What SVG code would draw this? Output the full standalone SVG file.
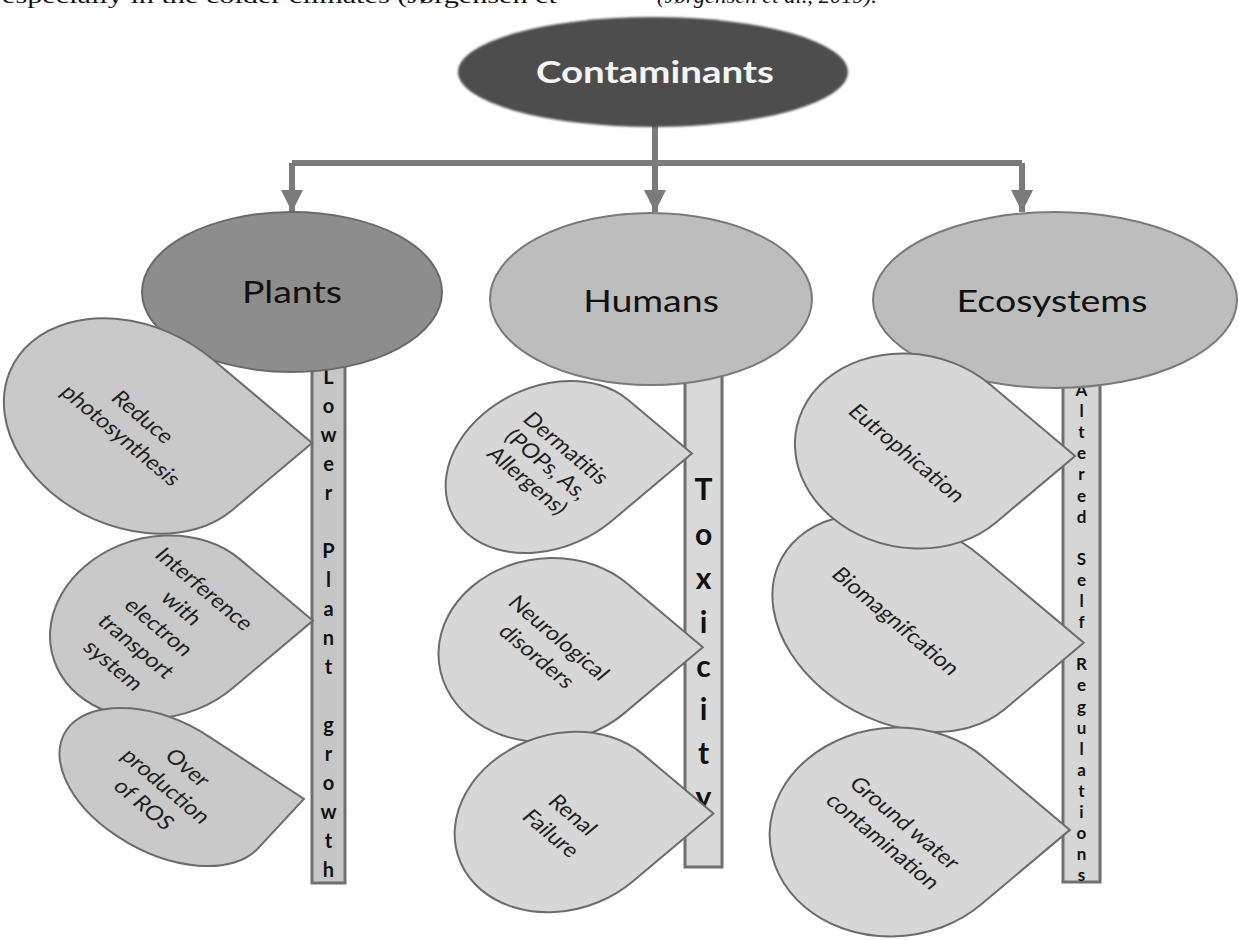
<svg xmlns="http://www.w3.org/2000/svg" width="1239" height="940" viewBox="0 0 1239 940">
  <defs>
    <style>
      .cap { font-family: "Liberation Serif", serif; font-size: 22px; fill: #111; }
      .conn { stroke: #7b7b7b; stroke-width: 6; fill: none; }
      .big { font-family: Lato, "Liberation Sans", sans-serif; font-size: 31.5px; fill: #111; text-anchor: middle; }
      .ell-p { fill: #8d8d8d; stroke: #6a6a6a; stroke-width: 2; }
      .ell-h { fill: #bdbdbd; stroke: #7a7a7a; stroke-width: 2; }
      .bar { stroke: #707070; stroke-width: 3; }
      .bl { font-family: Lato, "Liberation Sans", sans-serif; font-weight: 700; fill: #111; text-anchor: middle; }
      .drop-p { fill: #c9c9c9; stroke: #6c6c6c; stroke-width: 2; }
      .drop { fill: #d7d7d7; stroke: #6c6c6c; stroke-width: 2; }
      .dt { font-family: Lato, "Liberation Sans", sans-serif; font-size: 20px; fill: #1e1e1e; text-anchor: middle; }
    </style>
    <marker id="ah" markerUnits="userSpaceOnUse" markerWidth="24" markerHeight="22" refX="22" refY="11" orient="auto">
      <path d="M0,0 L22,11 L0,22 Z" fill="#7b7b7b"/>
    </marker>
    <filter id="soft" x="-5%" y="-10%" width="110%" height="120%">
      <feGaussianBlur stdDeviation="1.2"/>
    </filter>
  </defs>

  <!-- cut-off caption line at top -->
  <text class="cap" x="2" y="3" textLength="555" lengthAdjust="spacingAndGlyphs">especially in the colder climates (Jørgensen et</text>
  <text class="cap" x="657" y="3" textLength="220" lengthAdjust="spacingAndGlyphs" font-style="italic">(Jørgensen et al., 2019).</text>

  <!-- connectors -->
  <g id="connectors">
    <path class="conn" d="M655,125 V163"/>
    <path class="conn" d="M292,163 H1022"/>
    <path class="conn" d="M292,163 V212" marker-end="url(#ah)"/>
    <path class="conn" d="M655,163 V212" marker-end="url(#ah)"/>
    <path class="conn" d="M1022,163 V212" marker-end="url(#ah)"/>
  </g>

  <!-- vertical bars -->
  <g id="bar-plants">
    <rect class="bar" x="312" y="360" width="33" height="523" fill="#c6c6c6"/>
    <g class="bl" font-size="20">
      <text x="328.5" y="384">L</text>
      <text x="328.5" y="413">o</text>
      <text x="328.5" y="442">w</text>
      <text x="328.5" y="471">e</text>
      <text x="328.5" y="500">r</text>
      <text x="328.5" y="558">P</text>
      <text x="328.5" y="587">l</text>
      <text x="328.5" y="616">a</text>
      <text x="328.5" y="645">n</text>
      <text x="328.5" y="674">t</text>
      <text x="328.5" y="732">g</text>
      <text x="328.5" y="761">r</text>
      <text x="328.5" y="790">o</text>
      <text x="328.5" y="819">w</text>
      <text x="328.5" y="848">t</text>
      <text x="328.5" y="877">h</text>
    </g>
  </g>
  <g id="bar-humans">
    <rect class="bar" x="685" y="370" width="37" height="497" fill="#d9d9d9"/>
    <g class="bl" font-size="30">
      <text x="703.5" y="500">T</text>
      <text x="703.5" y="545">o</text>
      <text x="703.5" y="589">x</text>
      <text x="703.5" y="633">i</text>
      <text x="703.5" y="677">c</text>
      <text x="703.5" y="720">i</text>
      <text x="703.5" y="764">t</text>
      <text x="703.5" y="808">y</text>
    </g>
  </g>
  <g id="bar-ecosystems">
    <rect class="bar" x="1063" y="370" width="37" height="512" fill="#d6d6d6"/>
    <g class="bl" font-size="17">
      <text x="1081.5" y="396">A</text>
      <text x="1081.5" y="417">l</text>
      <text x="1081.5" y="438">t</text>
      <text x="1081.5" y="459">e</text>
      <text x="1081.5" y="480">r</text>
      <text x="1081.5" y="502">e</text>
      <text x="1081.5" y="523">d</text>
      <text x="1081.5" y="565">S</text>
      <text x="1081.5" y="586">e</text>
      <text x="1081.5" y="607">l</text>
      <text x="1081.5" y="628">f</text>
      <text x="1081.5" y="670">R</text>
      <text x="1081.5" y="691">e</text>
      <text x="1081.5" y="713">g</text>
      <text x="1081.5" y="734">u</text>
      <text x="1081.5" y="755">l</text>
      <text x="1081.5" y="776">a</text>
      <text x="1081.5" y="797">t</text>
      <text x="1081.5" y="818">i</text>
      <text x="1081.5" y="839">o</text>
      <text x="1081.5" y="860">n</text>
      <text x="1081.5" y="881">s</text>
    </g>
  </g>

  <!-- category ellipses -->
  <g id="node-plants">
    <ellipse class="ell-p" cx="292" cy="292" rx="150" ry="80"/>
    <text class="big" transform="translate(292,303) scale(1.19,1)">Plants</text>
  </g>
  <g id="node-humans">
    <ellipse class="ell-h" cx="651" cy="299" rx="161" ry="86"/>
    <text class="big" transform="translate(651,312) scale(1.19,1)">Humans</text>
  </g>
  <g id="node-ecosystems">
    <ellipse class="ell-h" cx="1055" cy="300" rx="182" ry="88"/>
    <text class="big" transform="translate(1052,312) scale(1.19,1)">Ecosystems</text>
  </g>

  <!-- Plants drops -->
  <g id="drop-reduce-photosynthesis">
    <path class="drop-p" vector-effect="non-scaling-stroke" transform="translate(132,426) scale(1.19,1) rotate(45)" d="M0,-95 L119,-95 L119,0 A119,95 0 1 1 0,-95 Z"/>
    <text class="dt" transform="translate(132,426) scale(1.19,1) rotate(45)"><tspan x="0" y="-6">Reduce</tspan><tspan x="0" y="20">photosynthesis</tspan></text>
  </g>
  <g id="drop-interference">
    <path class="drop-p" vector-effect="non-scaling-stroke" transform="translate(159,627) scale(1.19,1) rotate(45)" d="M0,-96 L87,-96 L87,0 A87,96 0 1 1 0,-96 Z"/>
    <text class="dt" transform="translate(159,627) scale(1.19,1) rotate(45)"><tspan x="0" y="-47">Interference</tspan><tspan x="0" y="-20">with</tspan><tspan x="0" y="7">electron</tspan><tspan x="0" y="34">transport</tspan><tspan x="0" y="61">system</tspan></text>
  </g>
  <g id="drop-ros">
    <path class="drop-p" vector-effect="non-scaling-stroke" transform="translate(164,787) scale(1.19,1) rotate(38)" d="M0,-63 L100,-63 L100,0 A100,63 0 1 1 0,-63 Z"/>
    <text class="dt" transform="translate(166,786) scale(1.19,1) rotate(45)"><tspan x="0" y="-19">Over</tspan><tspan x="0" y="7">production</tspan><tspan x="0" y="33">of ROS</tspan></text>
  </g>

  <!-- Humans drops -->
  <g id="drop-dermatitis">
    <path class="drop" vector-effect="non-scaling-stroke" transform="translate(548,467) scale(1.19,1) rotate(45)" d="M0,-95 L76,-95 L76,0 A76,95 0 1 1 0,-95 Z"/>
    <text class="dt" transform="translate(546,465) scale(1.19,1) rotate(45)"><tspan x="0" y="-17">Dermatitis</tspan><tspan x="0" y="6">(POPs, As,</tspan><tspan x="0" y="29">Allergens)</tspan></text>
  </g>
  <g id="drop-neurological">
    <path class="drop" vector-effect="non-scaling-stroke" transform="translate(548,650) scale(1.19,1) rotate(45)" d="M0,-94 L90,-94 L90,0 A90,94 0 1 1 0,-94 Z"/>
    <text class="dt" transform="translate(548,647) scale(1.19,1) rotate(45)"><tspan x="0" y="-6">Neurological</tspan><tspan x="0" y="20">disorders</tspan></text>
  </g>
  <g id="drop-renal">
    <path class="drop" vector-effect="non-scaling-stroke" transform="translate(562,822) scale(1.19,1) rotate(45)" d="M0,-96 L84,-96 L84,0 A84,96 0 1 1 0,-96 Z"/>
    <text class="dt" transform="translate(562,824) scale(1.19,1) rotate(45)"><tspan x="0" y="-6">Renal</tspan><tspan x="0" y="20">Failure</tspan></text>
  </g>

  <!-- Ecosystems drops -->
  <g id="drop-biomagnification">
    <path class="drop" vector-effect="non-scaling-stroke" transform="translate(902,623) scale(1.19,1) rotate(45)" d="M0,-94 L122,-94 L122,0 A122,94 0 1 1 0,-94 Z"/>
    <text class="dt" transform="translate(896,621) scale(1.19,1) rotate(45)"><tspan x="0" y="7">Biomagnifcation</tspan></text>
  </g>
  <g id="drop-eutrophication">
    <path class="drop" vector-effect="non-scaling-stroke" transform="translate(911,451) scale(1.19,1) rotate(45)" d="M0,-94 L101,-94 L101,0 A101,94 0 1 1 0,-94 Z"/>
    <text class="dt" transform="translate(907,453) scale(1.19,1) rotate(45)"><tspan x="0" y="7">Eutrophication</tspan></text>
  </g>
  <g id="drop-groundwater">
    <path class="drop" vector-effect="non-scaling-stroke" transform="translate(894,832) scale(1.19,1) rotate(45)" d="M0,-106 L103,-106 L103,0 A103,106 0 1 1 0,-106 Z"/>
    <text class="dt" transform="translate(894,832) scale(1.19,1) rotate(45)"><tspan x="0" y="-6">Ground water</tspan><tspan x="0" y="20">contamination</tspan></text>
  </g>

  <!-- root -->
  <g id="node-contaminants">
    <ellipse cx="653" cy="72" rx="195" ry="55" fill="#4d4d4d" filter="url(#soft)"/>
    <text x="655" y="83" font-family="Lato, 'Liberation Sans', sans-serif" font-weight="700" font-size="30" fill="#f4f4f4" text-anchor="middle" textLength="238" lengthAdjust="spacingAndGlyphs">Contaminants</text>
  </g>
</svg>
